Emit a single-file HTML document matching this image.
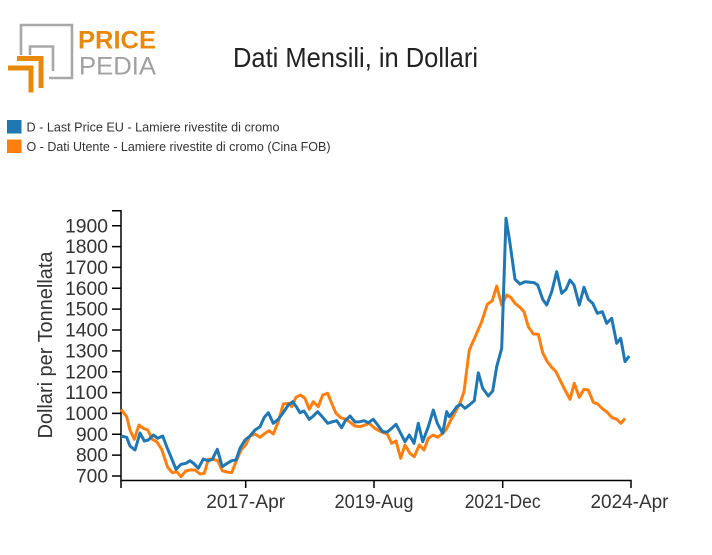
<!DOCTYPE html>
<html><head><meta charset="utf-8"><style>
html,body{margin:0;padding:0;background:#fff;}
svg{display:block;}
text{font-family:"Liberation Sans",sans-serif;}
</style></head><body>
<svg width="712" height="555" viewBox="0 0 712 555" xmlns="http://www.w3.org/2000/svg">
<rect width="712" height="555" fill="#fff"/>
<!-- logo -->
<g fill="none" stroke="#a8a8a8" stroke-width="2.6">
<path d="M21,55 V25 H72 V78 H49"/>
<path d="M30,55 V46.5 H53 V71"/>
</g>
<g fill="#e8890c">
<rect x="17" y="56" width="26" height="5"/>
<rect x="38.5" y="56" width="5" height="32"/>
<rect x="8" y="65.5" width="25.5" height="5"/>
<rect x="28.5" y="65.5" width="5" height="27"/>
</g>
<text x="78" y="48.5" font-size="25" font-weight="bold" fill="#e8890c" textLength="78" lengthAdjust="spacingAndGlyphs">PRICE</text>
<text x="79" y="74.5" font-size="25" fill="#a0a0a0" textLength="77" lengthAdjust="spacingAndGlyphs" style="font-weight:300">PEDIA</text>
<!-- title -->
<text x="233" y="67" font-size="28" fill="#222" textLength="245" lengthAdjust="spacingAndGlyphs">Dati Mensili, in Dollari</text>
<!-- legend -->
<rect x="7" y="120" width="14.5" height="13.5" fill="#1f77b4"/>
<rect x="7" y="139.5" width="14.5" height="13.5" fill="#ff7f0e"/>
<text x="26.5" y="131.5" font-size="12.5" fill="#333" textLength="253" lengthAdjust="spacingAndGlyphs">D - Last Price EU - Lamiere rivestite di cromo</text>
<text x="26.5" y="151" font-size="12.5" fill="#333" textLength="304" lengthAdjust="spacingAndGlyphs">O - Dati Utente - Lamiere rivestite di cromo (Cina FOB)</text>
<!-- y axis label -->
<text transform="translate(52,345) rotate(-90)" text-anchor="middle" font-size="20" fill="#333" textLength="187" lengthAdjust="spacingAndGlyphs">Dollari per Tonnellata</text>
<!-- axes -->
<g stroke="#000" stroke-width="1.5" fill="none">
<path d="M112,210.7 H121 V480.5 H631 V488"/>
<path d="M121,480.5 V488"/>
<path d="M245.7,480.5 V488 M374,480.5 V488 M502.7,480.5 V488"/>
<path d="M112,476 H121 M112,455.1 H121 M112,434.3 H121 M112,413.4 H121 M112,392.6 H121 M112,371.7 H121 M112,350.9 H121 M112,330 H121 M112,309.1 H121 M112,288.3 H121 M112,267.4 H121 M112,246.6 H121 M112,225.7 H121"/>
</g>
<g font-size="19.5" fill="#333" text-anchor="end">
<text x="108" y="482.6" textLength="32" lengthAdjust="spacingAndGlyphs">700</text>
<text x="108" y="461.7" textLength="32" lengthAdjust="spacingAndGlyphs">800</text>
<text x="108" y="440.9" textLength="32" lengthAdjust="spacingAndGlyphs">900</text>
<text x="108" y="420" textLength="43" lengthAdjust="spacingAndGlyphs">1000</text>
<text x="108" y="399.2" textLength="43" lengthAdjust="spacingAndGlyphs">1100</text>
<text x="108" y="378.3" textLength="43" lengthAdjust="spacingAndGlyphs">1200</text>
<text x="108" y="357.5" textLength="43" lengthAdjust="spacingAndGlyphs">1300</text>
<text x="108" y="336.6" textLength="43" lengthAdjust="spacingAndGlyphs">1400</text>
<text x="108" y="315.7" textLength="43" lengthAdjust="spacingAndGlyphs">1500</text>
<text x="108" y="294.9" textLength="43" lengthAdjust="spacingAndGlyphs">1600</text>
<text x="108" y="274" textLength="43" lengthAdjust="spacingAndGlyphs">1700</text>
<text x="108" y="253.2" textLength="43" lengthAdjust="spacingAndGlyphs">1800</text>
<text x="108" y="232.3" textLength="43" lengthAdjust="spacingAndGlyphs">1900</text>
</g>
<g font-size="19.5" fill="#333" text-anchor="middle">
<text x="245.7" y="508" textLength="79" lengthAdjust="spacingAndGlyphs">2017-Apr</text>
<text x="374" y="508" textLength="79" lengthAdjust="spacingAndGlyphs">2019-Aug</text>
<text x="502.7" y="508" textLength="76" lengthAdjust="spacingAndGlyphs">2021-Dec</text>
<text x="629.5" y="508" textLength="78" lengthAdjust="spacingAndGlyphs">2024-Apr</text>
</g>
<!-- series -->
<polyline fill="none" stroke="#ff7f0e" stroke-width="3" stroke-linejoin="round" points="121,409.3 126.7,416.7 130,430 134.3,439.3 139,425 143.3,428.3 147.7,430 152.3,439.3 156.7,441.7 161.7,449.3 167.7,467.3 172.3,472.7 176.7,471.7 181,476.7 185.7,471 190,470 195,470 200,474 204.3,473.3 208.3,459.3 213.3,459.3 217.7,460.7 222.3,470.7 226.7,472 231.7,472.7 236,461.7 241,450 245.7,445 250,436 255,434 260,437.3 265,433.3 269,430.7 273.3,434 278.3,421.7 283.3,404 288.3,403.3 291.7,406.7 296,397.3 300.7,395 305,398.3 309.3,409.3 313.3,401.7 318.3,406.7 322.7,395 327.7,393.3 331.7,403.3 336,413.3 341,417.7 346,419.3 350.7,422.7 355,426 360,426.7 365,425 369.3,423.3 374,427.7 379,430.7 383.3,432.7 387.3,434 391.7,443.3 396,441 400.7,458.3 405,445 410,453.3 414.3,456.7 419.3,445 424,450 428.3,438.3 433.3,435 437.7,437.3 442.7,433.3 446,430 450,421.7 455,412.7 460,403.3 464,391.7 469.3,350 472.3,343.3 476.7,333.3 481.7,321.7 487.3,304.3 492.3,300.7 496.7,286 501.7,305 506.7,295 510.7,297.3 515,303.3 520,307.3 524,311.7 528.3,326.7 533.3,334 538.3,334.3 542.7,352.7 547.3,361.7 551.7,367.3 556,371.7 560,380 565,390 570,399.3 574.3,383.3 579.3,397.3 584,389.3 588.3,390 593.3,402.3 597.7,404 602.7,409 606.7,411.7 611.7,417.3 616.7,419.3 621,423.3 625,418.3"/>
<polyline fill="none" stroke="#1f77b4" stroke-width="3" stroke-linejoin="round" points="121,436 126.7,437.3 130,446 135,450 140,433 144.3,441 148.3,440 153.3,435 157.7,438.3 162.7,436 166.7,446.7 171,457 176,469.3 181,464.3 186,463.3 190,460.7 194.3,464 198.3,468.3 203.3,459 208.3,460.7 212.3,459.3 217.3,449.3 222.3,466.7 227.3,463.3 231.7,460.7 236,460 240,448.3 245,440 250,436 255,430 260,426.7 264.3,417.3 268.3,412.7 273.3,423.3 278.3,419.3 283.3,412.5 288.3,405 292.7,401.7 296.7,407.3 300,412.7 304,411 309.3,419.3 313.3,416 317.7,411.7 322.7,417.3 327.7,423.3 332.7,421.7 336.7,420.7 341.7,427.7 345.3,420.7 350,416 355,422 360,421.7 364,420.7 368.3,422.7 373.3,419.3 377.7,425 382.7,431.7 387.3,432 391.7,428.3 396,424.3 400.7,433.3 405,441.7 409.3,435 414,443.3 418.3,423.3 422.7,441.7 428.3,426.7 433.3,410 437.3,423.3 442.7,433.3 446.7,411.7 449.3,416.7 453.3,411.7 456.7,406.7 460.7,404.3 465,408.3 469.3,405 474.3,400.7 478.3,372.7 482.7,388.3 488.3,396 492.7,391 496.7,366.7 501.7,348.3 506,218.3 510,243.3 515,279.3 520,284 525,281.7 530,282.3 534.3,282.7 537.7,285 542.7,299.3 546.7,305 551.7,291.7 556.7,271.7 561.7,293.3 566,289.3 570,280 574,285 579.3,305 584,287.3 588.3,299.3 592.7,303.3 597.3,313.3 602.3,311.7 606.7,323.3 611.7,318.3 616.7,343.3 620.7,338.3 625,361.7 629.3,356"/>
</svg>
</body></html>
